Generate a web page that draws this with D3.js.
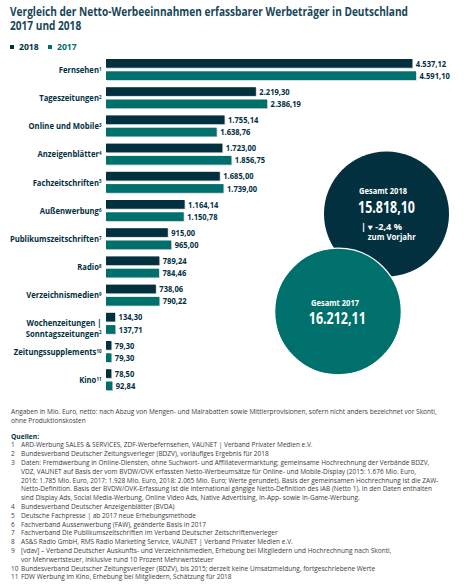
<!DOCTYPE html>
<html>
<head>
<meta charset="utf-8">
<script src="https://cdn.jsdelivr.net/npm/d3@7"></script>
<style>
  body { margin: 0; background: #fff; }
  text { font-family: "Open Sans", "Noto Sans", sans-serif; }
</style>
</head>
<body>
<div id="container"></div>
<script>
// data
let categories = ["Fernsehen", "Tageszeitungen", "Online und Mobile", "Anzeigenblätter",
  "Fachzeitschriften", "Außenwerbung", "Publikumszeitschriften", "Radio", "Verzeichnismedien",
  "Wochenzeitungen |\nSonntagszeitungen", "Zeitungssupplements", "Kino"];
let noteNumbers = ["1", "2", "3", "4", "5", "6", "7", "8", "9", "2", "10", "11"];
let years = ["2018", "2017"];
let values2018 = [4537.12, 2219.30, 1755.14, 1723.00, 1685.00, 1164.14, 915.00, 789.24, 738.06, 134.30, 79.30, 78.50];
let values2017 = [4591.10, 2386.19, 1638.76, 1856.75, 1739.00, 1150.78, 965.00, 784.46, 790.22, 137.71, 79.30, 92.84];
let totals = [15818.10, 16212.11];
let changeText = "-2,4 %";

let titleLines = ["Vergleich der Netto-Werbeeinnahmen erfassbarer Werbeträger in Deutschland", "2017 und 2018"];
let introLines = ["Angaben in Mio. Euro, netto: nach Abzug von Mengen- und Malrabatten sowie Mittlerprovisionen, sofern nicht anders bezeichnet vor Skonti,",
  "ohne Produktionskosten"];
let sources = [
  ["1", "ARD-Werbung SALES & SERVICES, ZDF-Werbefernsehen, VAUNET | Verband Privater Medien e.V."],
  ["2", "Bundesverband Deutscher Zeitungsverleger (BDZV), vorläufiges Ergebnis für 2018"],
  ["3", "Daten: Fremdwerbung in Online-Diensten, ohne Suchwort- und Affiliatevermarktung; gemeinsame Hochrechnung der Verbände BDZV,",
    "VDZ, VAUNET auf Basis der vom BVDW/OVK erfassten Netto-Werbeumsätze für Online- und Mobile-Display (2015: 1.676 Mio. Euro,",
    "2016: 1.785 Mio. Euro, 2017: 1.928 Mio. Euro, 2018: 2.065 Mio. Euro; Werte gerundet). Basis der gemeinsamen Hochrechnung ist die ZAW-",
    "Netto-Definition. Basis der BVDW/OVK-Erfassung ist die international gängige Netto-Definition des IAB (Netto 1). In den Daten enthalten",
    "sind Display Ads, Social Media-Werbung, Online Video Ads, Native Advertising, In-App- sowie In-Game-Werbung."],
  ["4", "Bundesverband Deutscher Anzeigenblätter (BVDA)"],
  ["5", "Deutsche Fachpresse | ab 2017 neue Erhebungsmethode"],
  ["6", "Fachverband Aussenwerbung (FAW), geänderte Basis in 2017"],
  ["7", "Fachverband Die Publikumszeitschriften im Verband Deutscher Zeitschriftenverleger"],
  ["8", "AS&S Radio GmbH, RMS Radio Marketing Service, VAUNET | Verband Privater Medien e.V."],
  ["9", "[vdav] – Verband Deutscher Auskunfts- und Verzeichnismedien, Erhebung bei Mitgliedern und Hochrechnung nach Skonti,",
    "vor Mehrwertsteuer, inklusive rund 10 Prozent Mehrwertsteuer"],
  ["10", "Bundesverband Deutscher Zeitungsverleger (BDZV), bis 2015; derzeit keine Umsatzmeldung, fortgeschriebene Werte"],
  ["11", "FDW Werbung im Kino, Erhebung bei Mitgliedern, Schätzung für 2018"]
];

let w = 468;
let h = 584;
let navy = "#03303f";
let teal = "#00706c";
let titleColor = "#17475a";
let colors = {"2018": navy, "2017": teal};

let de = d3.formatLocale({decimal: ",", thousands: ".", grouping: [3], currency: ["", " €"]});
let fmt = de.format(",.2f");

let viz = d3.select("#container")
  .append("svg")
    .attr("width", w)
    .attr("height", h)
    .style("background-color", "white");

// the font in the picture is condensed: squeeze texts by one ratio
function squeeze(sel, ratio) {
  sel.each(function() {
    let len = this.getComputedTextLength();
    d3.select(this).attr("textLength", len * ratio).attr("lengthAdjust", "spacingAndGlyphs");
  });
}
function ratioFor(node, targetWidth) {
  return targetWidth / node.getComputedTextLength();
}

// TITLE
let title = viz.selectAll(".title").data(titleLines).enter()
  .append("text")
    .attr("class", "title")
    .attr("x", 10)
    .attr("y", (d, i) => 15.5 + i * 14.2)
    .style("font-size", "11.6px")
    .style("font-weight", 700)
    .style("fill", titleColor)
    .text(d => d);
squeeze(title, ratioFor(title.node(), 398));

// LEGEND
let legend = viz.selectAll(".legend").data(years).enter()
  .append("g")
    .attr("class", "legend")
    .attr("transform", (d, i) => "translate(" + (10 + i * 38) + ",47)");
legend.append("rect")
    .attr("x", 0).attr("y", -2).attr("width", 4).attr("height", 4)
    .attr("fill", d => colors[d]);
legend.append("text")
    .attr("x", 9).attr("dy", "0.35em")
    .style("font-size", "8.6px").style("font-weight", 700)
    .style("fill", d => colors[d])
    .text(d => d);

// SCALES
let x = d3.scaleLinear().domain([0, d3.max(values2017.concat(values2018))]).range([106, 416]);
let y = d3.scaleBand().domain(categories).range([56, 56 + categories.length * 28.2]);
let yInner = d3.scaleBand().domain(years).range([3, 24]).paddingInner(0.29);

let rows = categories.map((c, i) => ({
  cat: c, note: noteNumbers[i],
  bars: [{year: "2018", value: values2018[i]}, {year: "2017", value: values2017[i]}]
}));

let groups = viz.selectAll(".row").data(rows).enter()
  .append("g")
    .attr("class", "row")
    .attr("transform", d => "translate(0," + y(d.cat) + ")");

let bars = groups.selectAll(".bar").data(d => d.bars).enter();
// light shadow under the bars
bars.append("rect")
    .attr("x", x(0) + 0.8)
    .attr("y", d => yInner(d.year) + 0.8)
    .attr("width", d => x(d.value) - x(0))
    .attr("height", yInner.bandwidth())
    .attr("fill", "#cfd3d4");
bars.append("rect")
    .attr("class", "bar")
    .attr("x", x(0))
    .attr("y", d => yInner(d.year))
    .attr("width", d => x(d.value) - x(0))
    .attr("height", yInner.bandwidth())
    .attr("fill", d => colors[d.year]);
let valueLabels = bars.append("text")
    .attr("class", "value")
    .attr("x", d => x(d.value) + 3.5)
    .attr("y", d => yInner(d.year) + yInner.bandwidth() / 2)
    .attr("dy", "0.36em")
    .style("font-size", "8.8px").style("font-weight", 700)
    .style("fill", navy)
    .text(d => fmt(d.value));
squeeze(valueLabels, ratioFor(valueLabels.node(), 30.3));

// CATEGORY LABELS with superscript note number
let rowMid = 3 + 21 / 2;
groups.each(function(d) {
  let parts = d.cat.split("\n");
  let g = d3.select(this);
  parts.forEach((p, k) => {
    let off = parts.length > 1 ? (k === 0 ? -0.5 : 10) : 0;
    let t = g.append("text")
        .attr("class", "cat")
        .attr("x", 101.5)
        .attr("y", rowMid + off)
        .attr("dy", "0.35em")
        .attr("text-anchor", "end")
        .style("font-size", "9.6px").style("font-weight", 700)
        .style("fill", navy)
        .text(p);
    if (k === parts.length - 1) {
      t.append("tspan")
          .attr("dy", "-0.42em")
          .style("font-size", "5.6px")
          .text(d.note);
    }
  });
});
squeeze(viz.selectAll(".cat"), 0.8);

// TOTAL CIRCLES
let r = d3.scaleSqrt().domain([0, d3.max(totals)]).range([0, 63.3]);
let circleData = [
  {year: "2018", total: totals[0], cx: 386.5, cy: 214},
  {year: "2017", total: totals[1], cx: 338, cy: 311.5}
];
let bubbles = viz.selectAll(".bubble").data(circleData).enter()
  .append("g")
    .attr("class", "bubble")
    .attr("transform", d => "translate(" + d.cx + "," + d.cy + ")");
bubbles.append("circle")
    .attr("r", d => r(d.total))
    .attr("fill", d => colors[d.year])
    .attr("stroke", "white")
    .attr("stroke-width", d => d.year === "2017" ? 1.2 : 0);

let capLabels = bubbles.append("text")
    .attr("x", d => d.year === "2018" ? -3.5 : -3)
    .attr("y", d => d.year === "2018" ? -23 : -8.2)
    .attr("dy", "0.35em")
    .attr("text-anchor", "middle")
    .style("font-size", "8.6px").style("font-weight", 700)
    .style("fill", "white")
    .text(d => "Gesamt " + d.year);
squeeze(capLabels, ratioFor(capLabels.node(), 48));

let totalLabels = bubbles.append("text")
    .attr("x", d => d.year === "2018" ? 0 : -0.7)
    .attr("y", d => d.year === "2018" ? -7 : 7)
    .attr("dy", "0.36em")
    .attr("text-anchor", "middle")
    .style("font-size", "15.5px").style("font-weight", 700)
    .style("fill", "white")
    .text(d => fmt(d.total));
squeeze(totalLabels, ratioFor(totalLabels.node(), 57));

let change = bubbles.filter(d => d.year === "2018");
change.append("text")
    .attr("x", -25.5).attr("y", 12.7).attr("dy", "0.35em")
    .style("font-size", "8.4px").style("font-weight", 700)
    .style("fill", "white")
    .text("|  \u25BE  " + changeText)
    .attr("textLength", 41).attr("lengthAdjust", "spacingAndGlyphs");
change.append("text")
    .attr("x", -18.8).attr("y", 23.3).attr("dy", "0.35em")
    .style("font-size", "8.4px").style("font-weight", 700)
    .style("fill", "white")
    .text("zum Vorjahr")
    .attr("textLength", 48).attr("lengthAdjust", "spacingAndGlyphs");

// FOOTNOTES
let lineH = 8.8;
let fnSize = "7px";
let notes = viz.append("g").attr("class", "notes");
let intro = notes.selectAll(".intro").data(introLines).enter()
  .append("text")
    .attr("class", "fn")
    .attr("x", 11)
    .attr("y", (d, i) => 412 + i * lineH)
    .attr("dy", "0.35em")
    .style("font-size", fnSize)
    .style("fill", "#3c3c3c")
    .text(d => d);

notes.append("text")
    .attr("class", "fn")
    .attr("x", 11).attr("y", 436).attr("dy", "0.35em")
    .style("font-size", "7.2px").style("font-weight", 700)
    .style("fill", navy)
    .text("Quellen:");

let lineNo = 0;
sources.forEach(s => {
  notes.append("text")
      .attr("class", "fn")
      .attr("x", 11).attr("y", 445 + lineNo * lineH).attr("dy", "0.35em")
      .style("font-size", fnSize).style("fill", "#3c3c3c")
      .text(s[0]);
  s.slice(1).forEach(line => {
    notes.append("text")
        .attr("class", "fn")
        .attr("x", 21).attr("y", 445 + lineNo * lineH).attr("dy", "0.35em")
        .style("font-size", fnSize).style("fill", "#3c3c3c")
        .text(line);
    lineNo++;
  });
});
squeeze(notes.selectAll(".fn"), ratioFor(intro.node(), 425.7));
</script>
</body>
</html>
